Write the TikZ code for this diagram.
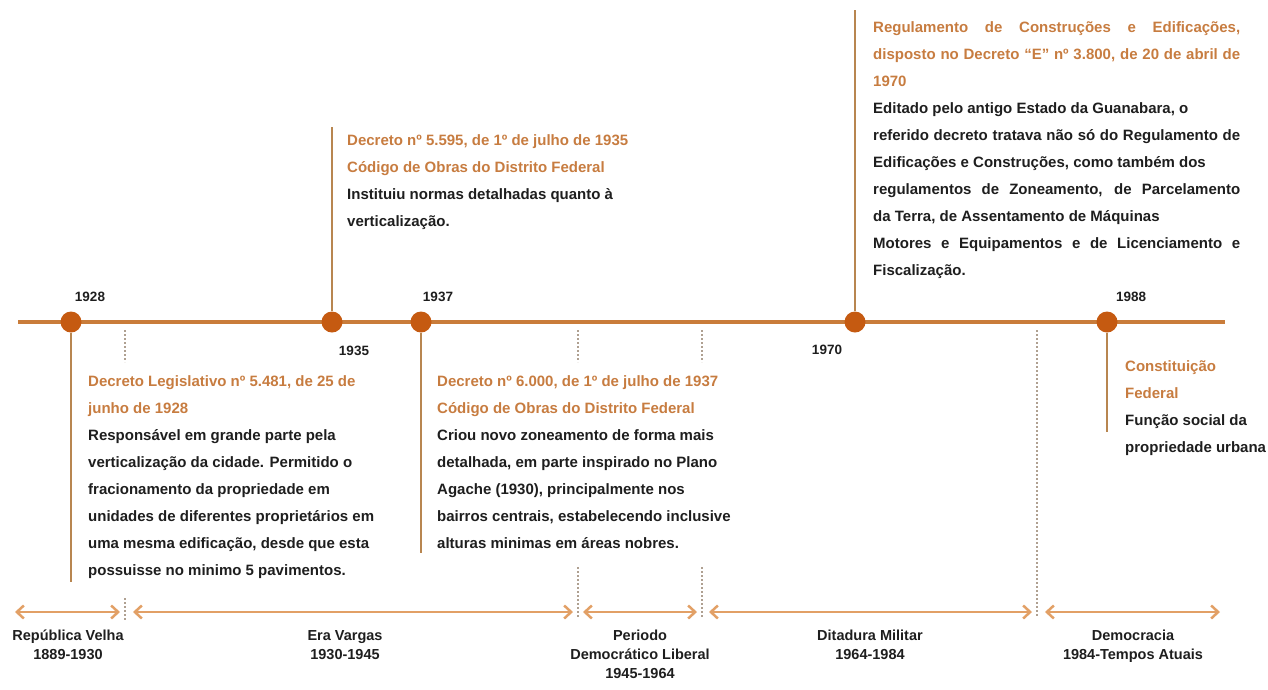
\documentclass[tikz,border=0pt]{standalone}
\usepackage{fontspec}
\setmainfont{Liberation Sans}
\usetikzlibrary{arrows.meta,positioning}
\setlength{\parindent}{0pt}
\definecolor{lineorange}{RGB}{201,124,58}
\definecolor{dotorange}{RGB}{197,90,17}
\definecolor{stemtan}{RGB}{184,134,80}
\definecolor{titleorange}{RGB}{199,124,64}
\definecolor{bodyblack}{RGB}{30,30,30}
\definecolor{arroworange}{RGB}{226,160,102}
\definecolor{dashgray}{RGB}{175,160,145}
\tikzset{
  timeline/.style={draw=lineorange, line width=3.5pt},
  yeardot/.style={circle, fill=dotorange, minimum size=21pt, inner sep=0pt},
  stem/.style={draw=stemtan, line width=2.5pt},
  yearlabel/.style={font=\fontsize{13.5}{16}\selectfont\bfseries, text=bodyblack, inner sep=0pt},
  lawtext/.style={anchor=north west, align=left, inner sep=0pt,
    font=\fontsize{15}{27}\selectfont\bfseries, text=bodyblack},
  periodarrow/.style={{Straight Barb[length=7pt,width=13pt]}-{Straight Barb[length=7pt,width=13pt]},
    draw=arroworange, line width=2.5pt},
  periodlabel/.style={anchor=north, align=center, inner sep=0pt,
    font=\fontsize{14.5}{19}\selectfont\bfseries, text=bodyblack},
  divider/.style={draw=dashgray, line width=1.2pt, dash pattern=on 2pt off 2pt}
}
\newcommand{\lawtitle}[1]{\textcolor{titleorange}{#1}}

\begin{document}
\begin{tikzpicture}[x=1pt, y=-1pt]
  \useasboundingbox (0,0) rectangle (1268,689);
  % main line and events
  \coordinate (tlstart) at (18,322);
  \coordinate (tlend) at (1225,322);
  \draw[timeline] (tlstart) -- (tlend);
  \node[yeardot] (d1928) at (71,322) {};
  \node[yeardot] (d1935) at (332,322) {};
  \node[yeardot] (d1937) at (421,322) {};
  \node[yeardot] (d1970) at (855,322) {};
  \node[yeardot] (d1988) at (1107,322) {};
  \coordinate (s1928) at (71,582);
  \coordinate (s1935) at (332,127);
  \coordinate (s1937) at (421,553);
  \coordinate (s1970) at (855,10);
  \coordinate (s1988) at (1107,432);
  \draw[stem] (d1928) -- (s1928);
  \draw[stem] (d1935) -- (s1935);
  \draw[stem] (d1937) -- (s1937);
  \draw[stem] (d1970) -- (s1970);
  \draw[stem] (d1988) -- (s1988);
  \node[yearlabel] (y1928) at (90,297) {1928};
  \node[yearlabel] (y1935) at (354,351) {1935};
  \node[yearlabel] (y1937) at (438,297) {1937};
  \node[yearlabel] (y1970) at (827,350) {1970};
  \node[yearlabel] (y1988) at (1131,297) {1988};

  % texts of the laws
  \node[lawtext] (t1928) at (88,375) {\lawtitle{Decreto Legislativo nº 5.481, de 25 de}\\
    \lawtitle{junho de 1928}\\
    Responsável em grande parte pela\\
    verticalização da cidade. Permitido o\\
    fracionamento da propriedade em\\
    unidades de diferentes proprietários em\\
    uma mesma edificação, desde que esta\\
    possuisse no minimo 5 pavimentos.};
  \node[lawtext] (t1935) at (347,134) {\lawtitle{Decreto nº 5.595, de 1º de julho de 1935}\\
    \lawtitle{Código de Obras do Distrito Federal}\\
    Instituiu normas detalhadas quanto à\\
    verticalização.};
  \node[lawtext] (t1937) at (437,375) {\lawtitle{Decreto nº 6.000, de 1º de julho de 1937}\\
    \lawtitle{Código de Obras do Distrito Federal}\\
    Criou novo zoneamento de forma mais\\
    detalhada, em parte inspirado no Plano\\
    Agache (1930), principalmente nos\\
    bairros centrais, estabelecendo inclusive\\
    alturas minimas em áreas nobres.};
  \node[lawtext, text width=367pt, align=justify] (t1970) at (873,21) {\color{titleorange}Regulamento de Construções e Edificações,\linebreak
    disposto no Decreto “E” nº 3.800, de 20 de abril de\linebreak
    1970\par
    \color{bodyblack}Editado pelo antigo Estado da Guanabara, o\\
    referido decreto tratava não só do Regulamento de\linebreak
    Edificações e Construções, como também dos\\
    regulamentos de Zoneamento, de Parcelamento\linebreak
    da Terra, de Assentamento de Máquinas\\
    Motores e Equipamentos e de Licenciamento e\linebreak
    Fiscalização.};
  \node[lawtext] (t1988) at (1125,360) {\lawtitle{Constituição}\\
    \lawtitle{Federal}\\
    Função social da\\
    propriedade urbana};

  % period dividers
  \coordinate (v1a) at (125,330);  \coordinate (v1b) at (125,362);
  \coordinate (v1c) at (125,598);  \coordinate (v1d) at (125,620);
  \coordinate (v2a) at (578,330);  \coordinate (v2b) at (578,362);
  \coordinate (v2c) at (578,567);  \coordinate (v2d) at (578,617);
  \coordinate (v3a) at (702,330);  \coordinate (v3b) at (702,362);
  \coordinate (v3c) at (702,567);  \coordinate (v3d) at (702,617);
  \coordinate (v4a) at (1037,330); \coordinate (v4b) at (1037,617);
  \draw[divider] (v1a) -- (v1b);
  \draw[divider] (v1c) -- (v1d);
  \draw[divider] (v2a) -- (v2b);
  \draw[divider] (v2c) -- (v2d);
  \draw[divider] (v3a) -- (v3b);
  \draw[divider] (v3c) -- (v3d);
  \draw[divider] (v4a) -- (v4b);

  % periods
  \coordinate (rvl) at (15,612);   \coordinate (rvr) at (120,612);
  \coordinate (evl) at (133,612);  \coordinate (evr) at (573,612);
  \coordinate (pdl) at (583,612);  \coordinate (pdr) at (697,612);
  \coordinate (dml) at (709,612);  \coordinate (dmr) at (1032,612);
  \coordinate (dcl) at (1045,612); \coordinate (dcr) at (1220,612);
  \draw[periodarrow] (rvl) -- (rvr);
  \draw[periodarrow] (evl) -- (evr);
  \draw[periodarrow] (pdl) -- (pdr);
  \draw[periodarrow] (dml) -- (dmr);
  \draw[periodarrow] (dcl) -- (dcr);
  \node[periodlabel] (prv) at (68,630) {República Velha\\1889-1930};
  \node[periodlabel] (pev) at (345,630) {Era Vargas\\1930-1945};
  \node[periodlabel] (ppd) at (640,630) {Periodo\\Democrático Liberal\\1945-1964};
  \node[periodlabel] (pdm) at (870,630) {Ditadura Militar\\1964-1984};
  \node[periodlabel] (pdc) at (1133,630) {Democracia\\1984-Tempos Atuais};
\end{tikzpicture}
\end{document}
